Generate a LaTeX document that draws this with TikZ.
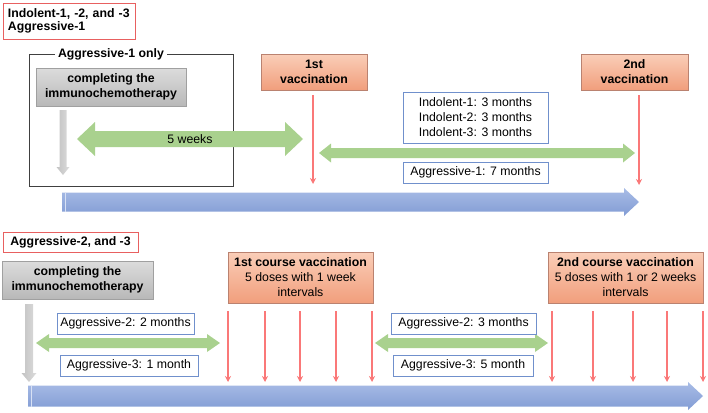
\documentclass[tikz,border=0pt]{standalone}
\usepackage{fontspec}
\setmainfont{Liberation Sans}
\usetikzlibrary{arrows.meta}

\definecolor{vaxtop}{RGB}{250,206,184}
\definecolor{vaxbot}{RGB}{241,158,124}
\definecolor{vaxline}{RGB}{186,130,112}
\definecolor{chemotop}{RGB}{220,220,220}
\definecolor{chemobot}{RGB}{184,184,184}
\definecolor{chemoline}{RGB}{160,160,160}
\definecolor{gapgreen}{RGB}{169,209,142}
\definecolor{linetop}{RGB}{168,188,230}
\definecolor{linebot}{RGB}{130,156,212}
\definecolor{doseline}{RGB}{250,120,120}
\definecolor{boxblue}{RGB}{112,144,204}
\definecolor{boxred}{RGB}{232,96,96}

% fat arrows: left x, right x, y, half shaft, half head, head length
\newcommand{\gapArrow}[6]{%
  \fill[gapgreen] (#1,#3) -- (#1+#6,#3-#5) -- (#1+#6,#3-#4) -- (#2-#6,#3-#4) -- (#2-#6,#3-#5)
    -- (#2,#3) -- (#2-#6,#3+#5) -- (#2-#6,#3+#4) -- (#1+#6,#3+#4) -- (#1+#6,#3+#5) -- cycle;}
\newcommand{\lineArrow}[6]{%
  \shade[top color=linetop, bottom color=linebot] (#1,#3-#4) -- (#2-#6,#3-#4) -- (#2-#6,#3-#5)
    -- (#2,#3) -- (#2-#6,#3+#5) -- (#2-#6,#3+#4) -- (#1,#3+#4) -- cycle;
  \draw[white!55!linetop, line width=1pt] (#1+3,#3-#4) -- (#1+3,#3+#4);}
% down arrow: x, top y, bottom y, half shaft, half head, head length
\newcommand{\stepArrow}[6]{%
  \shade[left color=chemobot!85, right color=chemotop] (#1-#4,#2) -- (#1+#4,#2) -- (#1+#4,#3-#6) -- (#1+#5,#3-#6)
    -- (#1,#3) -- (#1-#5,#3-#6) -- (#1-#4,#3-#6) -- cycle;}

\begin{document}
\begin{tikzpicture}[x=1pt, y=-1pt, font=\fontsize{12.3}{15}\selectfont,
        grouplabel/.style={draw=boxred, line width=0.9pt, inner sep=5pt, font=\fontsize{12.3}{13.5}\selectfont\bfseries, align=left},
        vax/.style={draw=vaxline, top color=vaxtop, bottom color=vaxbot, inner sep=2pt, align=center, font=\fontsize{12.3}{15}\selectfont\bfseries},
        chemo/.style={draw=chemoline, top color=chemotop, bottom color=chemobot, inner sep=2pt, align=center, font=\fontsize{12.3}{15}\selectfont\bfseries},
        period/.style={draw=boxblue, fill=white, inner sep=2pt, align=center},
        dose/.style={draw=doseline, line width=1.2pt, -{Stealth[length=6pt,width=6pt]}}]
        \useasboundingbox (0,0) rectangle (708,412);

        % Pieces, upper part
        \node[grouplabel, text width=122pt, minimum height=36pt] (G1) at (69,21) {Indolent-1, -2, and -3\\Aggressive-1};
        \node[draw=black!75, line width=0.9pt, minimum width=204pt, minimum height=132pt] (only) at (131,120) {};
        \node[fill=white, inner sep=3pt, font=\fontsize{12.3}{15}\selectfont\bfseries] (onlyT) at (111,54) {Aggressive-1 only};
        \node[chemo, minimum width=150pt, minimum height=38pt] (C1) at (111,87) {completing the\\immunochemotherapy};
        \node[vax, minimum width=106pt, minimum height=36pt] (V1) at (314,72) {1st\\vaccination};
        \node[vax, minimum width=107pt, minimum height=36pt] (V2) at (634.5,72) {2nd\\vaccination};
        \lineArrow{62}{639}{202}{9.5}{14}{15}
        \stepArrow{63}{110}{175}{3.5}{6.5}{8}
        \gapArrow{77}{303}{139}{8}{17}{18}
        \node (W5) at (190,139) {5 weeks};
        \gapArrow{319}{635}{153}{5}{9.5}{12}
        \node[period, minimum width=145pt, minimum height=51pt] (Ind) at (475.5,117.5) {Indolent-1: 3 months\\Indolent-2: 3 months\\Indolent-3: 3 months};
        \node[period, minimum width=145pt, minimum height=21pt] (A17) at (475.5,172.5) {Aggressive-1: 7 months};
        \coordinate (t1) at (313,184);
        \coordinate (t2) at (639,185);

        % Pieces, lower part
        \node[grouplabel, minimum width=135pt, minimum height=20pt, inner sep=3pt] (G2) at (70.5,242) {Aggressive-2, and -3};
        \node[chemo, minimum width=151pt, minimum height=38pt] (C2) at (77.5,280) {completing the\\immunochemotherapy};
        \node[vax, minimum width=145pt, minimum height=51pt] (K1) at (300.5,277.5) {1st course vaccination\\\mdseries 5 doses with 1 week\\\mdseries intervals};
        \node[vax, minimum width=155pt, minimum height=51pt] (K2) at (625.5,277.5) {2nd course vaccination\\\mdseries 5 doses with 1 or 2 weeks\\\mdseries intervals};
        \lineArrow{28}{703}{396}{10.5}{14}{15}
        \stepArrow{29}{304}{382}{4}{7.5}{9}
        \gapArrow{36}{220}{343}{5}{9}{13}
        \gapArrow{375}{548}{343}{5}{9}{13}
        \node[period, minimum width=137pt, minimum height=21pt] (A22) at (125.5,323.5) {Aggressive-2: 2 months};
        \node[period, minimum width=138pt, minimum height=21pt] (A31) at (129,365.5) {Aggressive-3: 1 month};
        \node[period, minimum width=145pt, minimum height=21pt] (A23) at (463.5,323.5) {Aggressive-2: 3 months};
        \node[period, minimum width=140pt, minimum height=21pt] (A35) at (463,365.5) {Aggressive-3: 5 month};

        % dose marks
        \coordinate (p1) at (228,311);   \coordinate (q1) at (228,382);
        \coordinate (p2) at (265,311);   \coordinate (q2) at (265,382);
        \coordinate (p3) at (300,311);   \coordinate (q3) at (300,382);
        \coordinate (p4) at (336,311);   \coordinate (q4) at (336,382);
        \coordinate (p5) at (372,311);   \coordinate (q5) at (372,382);
        \coordinate (p6) at (552,311);   \coordinate (q6) at (552,382);
        \coordinate (p7) at (593,311);   \coordinate (q7) at (593,382);
        \coordinate (p8) at (633,311);   \coordinate (q8) at (633,382);
        \coordinate (p9) at (667,311);   \coordinate (q9) at (667,382);
        \coordinate (p10) at (703,311);  \coordinate (q10) at (703,382);

        % Arrows
        \draw[dose] ([yshift=-5pt]V1.south -| t1) -- (t1);
        \draw[dose] ([yshift=-5pt]V2.south -| t2) -- (t2);
        \draw[dose] (p1) -- (q1);
        \draw[dose] (p2) -- (q2);
        \draw[dose] (p3) -- (q3);
        \draw[dose] (p4) -- (q4);
        \draw[dose] (p5) -- (q5);
        \draw[dose] (p6) -- (q6);
        \draw[dose] (p7) -- (q7);
        \draw[dose] (p8) -- (q8);
        \draw[dose] (p9) -- (q9);
        \draw[dose] (p10) -- (q10);
    \end{tikzpicture}
\end{document}
